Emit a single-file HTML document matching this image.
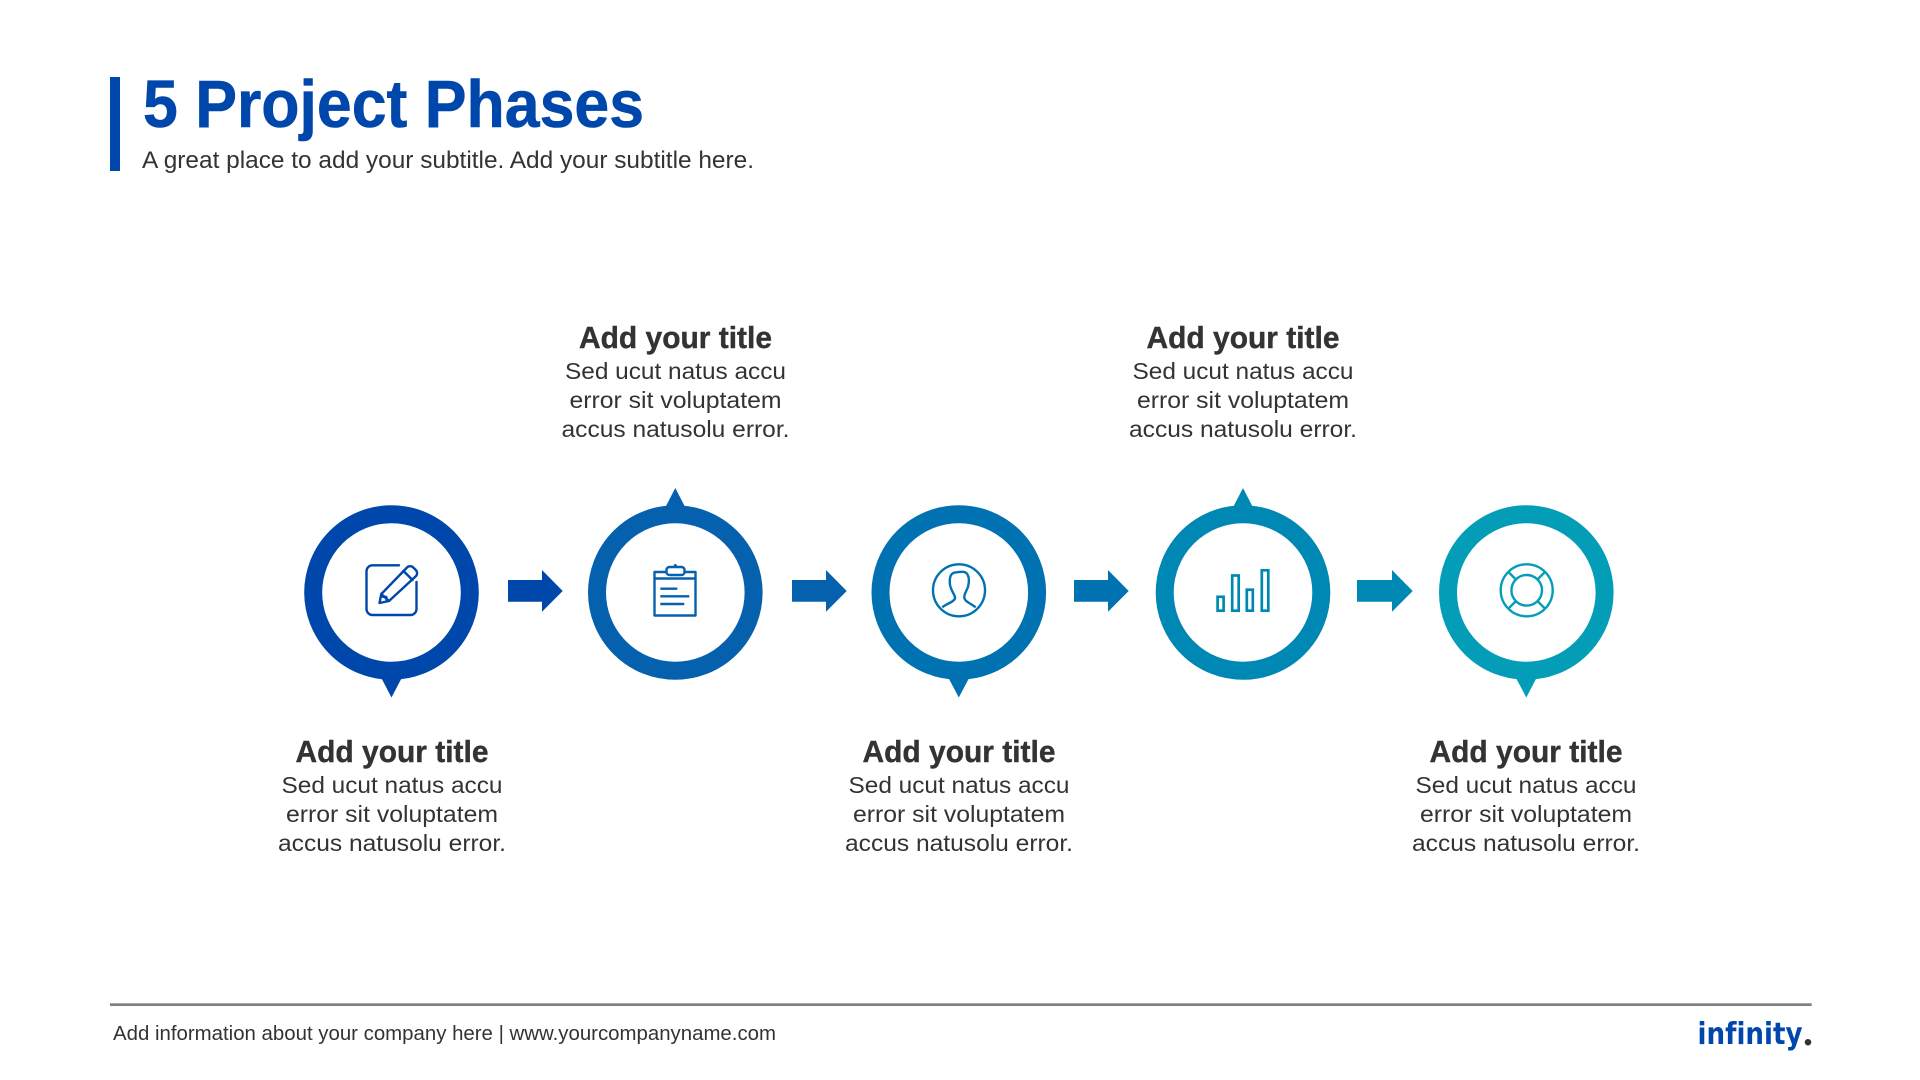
<!DOCTYPE html>
<html lang="en">
<head>
<meta charset="utf-8">
<title>5 Project Phases</title>
<style>
html,body{margin:0;padding:0;background:#fff;width:1920px;height:1080px;overflow:hidden}
svg{display:block;position:absolute;left:0;top:0}
text{font-family:"Liberation Sans",sans-serif}
.h{font-size:31px;font-weight:700;fill:#333;stroke:#333;stroke-width:.4px;text-anchor:middle}
.b{font-size:23px;fill:#333;text-anchor:middle}
</style>
</head>
<body>
<svg width="1920" height="1080" viewBox="0 0 1920 1080" xmlns="http://www.w3.org/2000/svg">
<rect width="1920" height="1080" fill="#fff"/>

<!-- header -->
<rect x="110" y="77" width="10" height="94" fill="#0047ab"/>
<text x="143" y="127" font-size="67" font-weight="700" fill="#0047ab" stroke="#0047ab" stroke-width=".6" textLength="501" lengthAdjust="spacingAndGlyphs">5 Project Phases</text>
<text x="142" y="168" font-size="24" fill="#333" textLength="612" lengthAdjust="spacingAndGlyphs">A great place to add your subtitle. Add your subtitle here.</text>

<!-- rings -->
<g fill="none" stroke-width="18">
<circle cx="391.500" cy="592.500" r="78.300" stroke="#0047ab"/>
<circle cx="675.300" cy="592.500" r="78.300" stroke="#0560ae"/>
<circle cx="958.800" cy="592.500" r="78.300" stroke="#0072b2"/>
<circle cx="1243" cy="592.500" r="78.300" stroke="#0088b4"/>
<circle cx="1526.300" cy="592.500" r="78.300" stroke="#049db8"/>
</g>
<!-- pointers -->
<polygon points="380.800,677 402.200,677 391.500,697.500" fill="#0047ab"/>
<polygon points="665,508 685.600,508 675.300,488" fill="#0560ae"/>
<polygon points="948,677 969.600,677 958.800,697.500" fill="#0072b2"/>
<polygon points="1232.700,508 1253.300,508 1243,488" fill="#0088b4"/>
<polygon points="1515.500,677 1537,677 1526.300,697.500" fill="#049db8"/>

<!-- arrows -->
<polygon points="508,580 542,580 542,570 562.700,591 542,611.700 542,601.700 508,601.700" fill="#0047ab"/>
<polygon points="792,580 826,580 826,570 846.700,591 826,611.700 826,601.700 792,601.700" fill="#0560ae"/>
<polygon points="1074,580 1108,580 1108,570 1128.700,591 1108,611.700 1108,601.700 1074,601.700" fill="#0072b2"/>
<polygon points="1357,580 1392,580 1392,570 1412.700,591 1392,611.700 1392,601.700 1357,601.700" fill="#0088b4"/>

<!-- icon 1: note + pencil -->
<g fill="none" stroke="#0047ab" stroke-width="2.400" stroke-linejoin="round" stroke-linecap="round">
<path d="M399 565.300H372.500a6 6 0 0 0-6 6V609a6 6 0 0 0 6 6H410.500a6 6 0 0 0 6-6V582"/>
<path d="M379.500 603l1.800-9L407 567.500a4.500 4.500 0 0 1 6.300 0l2.500 2.500a4.500 4.500 0 0 1 0 6.300L389 601z"/>
<path d="M381.300 594l7.700 7M403.500 571l9 9"/>
<path d="M381.800 596.500l4.500 .5.500 4"/>
</g>

<!-- icon 2: clipboard -->
<g fill="none" stroke="#0560ae" stroke-width="2.400" stroke-linejoin="round">
<path d="M666 572H654.500V615.500H695.500V572H684.500"/>
<path d="M654.500 578.500H695.500"/>
<rect x="666.500" y="567" width="18" height="8" rx="3"/>
<path d="M660.300 588.700H677.300M660.300 596.300H689.300M660.300 604H684.300"/>
</g>
<circle cx="675.300" cy="565.500" r="1.500" fill="#0560ae"/>

<!-- icon 3: person -->
<g fill="none" stroke="#0072b2" stroke-width="2.400" stroke-linejoin="round">
<circle cx="959" cy="590.300" r="26"/>
<path d="M942.300 607.300C946 604 955 601.500 955 598C955 594 950 590 949.800 583C949.500 576 951 572.500 956.700 572.300C960 572 965 570.500 967.500 574.500C969.500 578 969 583 968 587C966.500 591 964 594 964.300 597.500C964.500 601.500 971 603.500 975.700 607.300"/>
</g>

<!-- icon 4: bars -->
<g fill="none" stroke="#0088b4" stroke-width="2.700">
<rect x="1217.600" y="596.800" width="6" height="13.900"/>
<rect x="1232.200" y="575.500" width="6.500" height="35.200"/>
<rect x="1246.800" y="589.700" width="6" height="21"/>
<rect x="1261.800" y="570.300" width="6.500" height="40.400"/>
</g>

<!-- icon 5: lifebuoy -->
<g fill="none" stroke="#049db8" stroke-width="2.400">
<circle cx="1526.700" cy="590.300" r="26"/>
<circle cx="1526.700" cy="590.300" r="15.300"/>
<path d="M1515.900 579.500L1508.300 571.900M1537.500 579.500L1545.100 571.900M1515.900 601.100L1508.300 608.700M1537.500 601.100L1545.100 608.700"/>
</g>

<!-- text blocks -->
<g>
<text class="h" x="392" y="762" textLength="193" lengthAdjust="spacingAndGlyphs">Add your title</text>
<text class="b" x="392" y="793" textLength="221" lengthAdjust="spacingAndGlyphs">Sed ucut natus accu</text>
<text class="b" x="392" y="822" textLength="212" lengthAdjust="spacingAndGlyphs">error sit voluptatem</text>
<text class="b" x="392" y="851" textLength="228" lengthAdjust="spacingAndGlyphs">accus natusolu error.</text>
</g>
<g>
<text class="h" x="675.500" y="348" textLength="193" lengthAdjust="spacingAndGlyphs">Add your title</text>
<text class="b" x="675.500" y="379" textLength="221" lengthAdjust="spacingAndGlyphs">Sed ucut natus accu</text>
<text class="b" x="675.500" y="408" textLength="212" lengthAdjust="spacingAndGlyphs">error sit voluptatem</text>
<text class="b" x="675.500" y="437" textLength="228" lengthAdjust="spacingAndGlyphs">accus natusolu error.</text>
</g>
<g>
<text class="h" x="959" y="762" textLength="193" lengthAdjust="spacingAndGlyphs">Add your title</text>
<text class="b" x="959" y="793" textLength="221" lengthAdjust="spacingAndGlyphs">Sed ucut natus accu</text>
<text class="b" x="959" y="822" textLength="212" lengthAdjust="spacingAndGlyphs">error sit voluptatem</text>
<text class="b" x="959" y="851" textLength="228" lengthAdjust="spacingAndGlyphs">accus natusolu error.</text>
</g>
<g>
<text class="h" x="1243" y="348" textLength="193" lengthAdjust="spacingAndGlyphs">Add your title</text>
<text class="b" x="1243" y="379" textLength="221" lengthAdjust="spacingAndGlyphs">Sed ucut natus accu</text>
<text class="b" x="1243" y="408" textLength="212" lengthAdjust="spacingAndGlyphs">error sit voluptatem</text>
<text class="b" x="1243" y="437" textLength="228" lengthAdjust="spacingAndGlyphs">accus natusolu error.</text>
</g>
<g>
<text class="h" x="1526" y="762" textLength="193" lengthAdjust="spacingAndGlyphs">Add your title</text>
<text class="b" x="1526" y="793" textLength="221" lengthAdjust="spacingAndGlyphs">Sed ucut natus accu</text>
<text class="b" x="1526" y="822" textLength="212" lengthAdjust="spacingAndGlyphs">error sit voluptatem</text>
<text class="b" x="1526" y="851" textLength="228" lengthAdjust="spacingAndGlyphs">accus natusolu error.</text>
</g>

<!-- footer -->
<rect x="110" y="1003.300" width="1701.700" height="2.700" fill="#808080"/>
<text x="113" y="1040" font-size="20" fill="#333" textLength="663" lengthAdjust="spacingAndGlyphs">Add information about your company here | www.yourcompanyname.com</text>
<text x="1697.500" y="1044" font-size="30" font-weight="700" fill="#0047ab" textLength="105" lengthAdjust="spacingAndGlyphs" style="font-family:'DejaVu Sans',sans-serif;font-variant-ligatures:none">infinity</text>
<text x="1803" y="1045" font-size="40" font-weight="700" fill="#333" style="font-family:'Liberation Serif',serif">.</text>
</svg>
</body>
</html>
